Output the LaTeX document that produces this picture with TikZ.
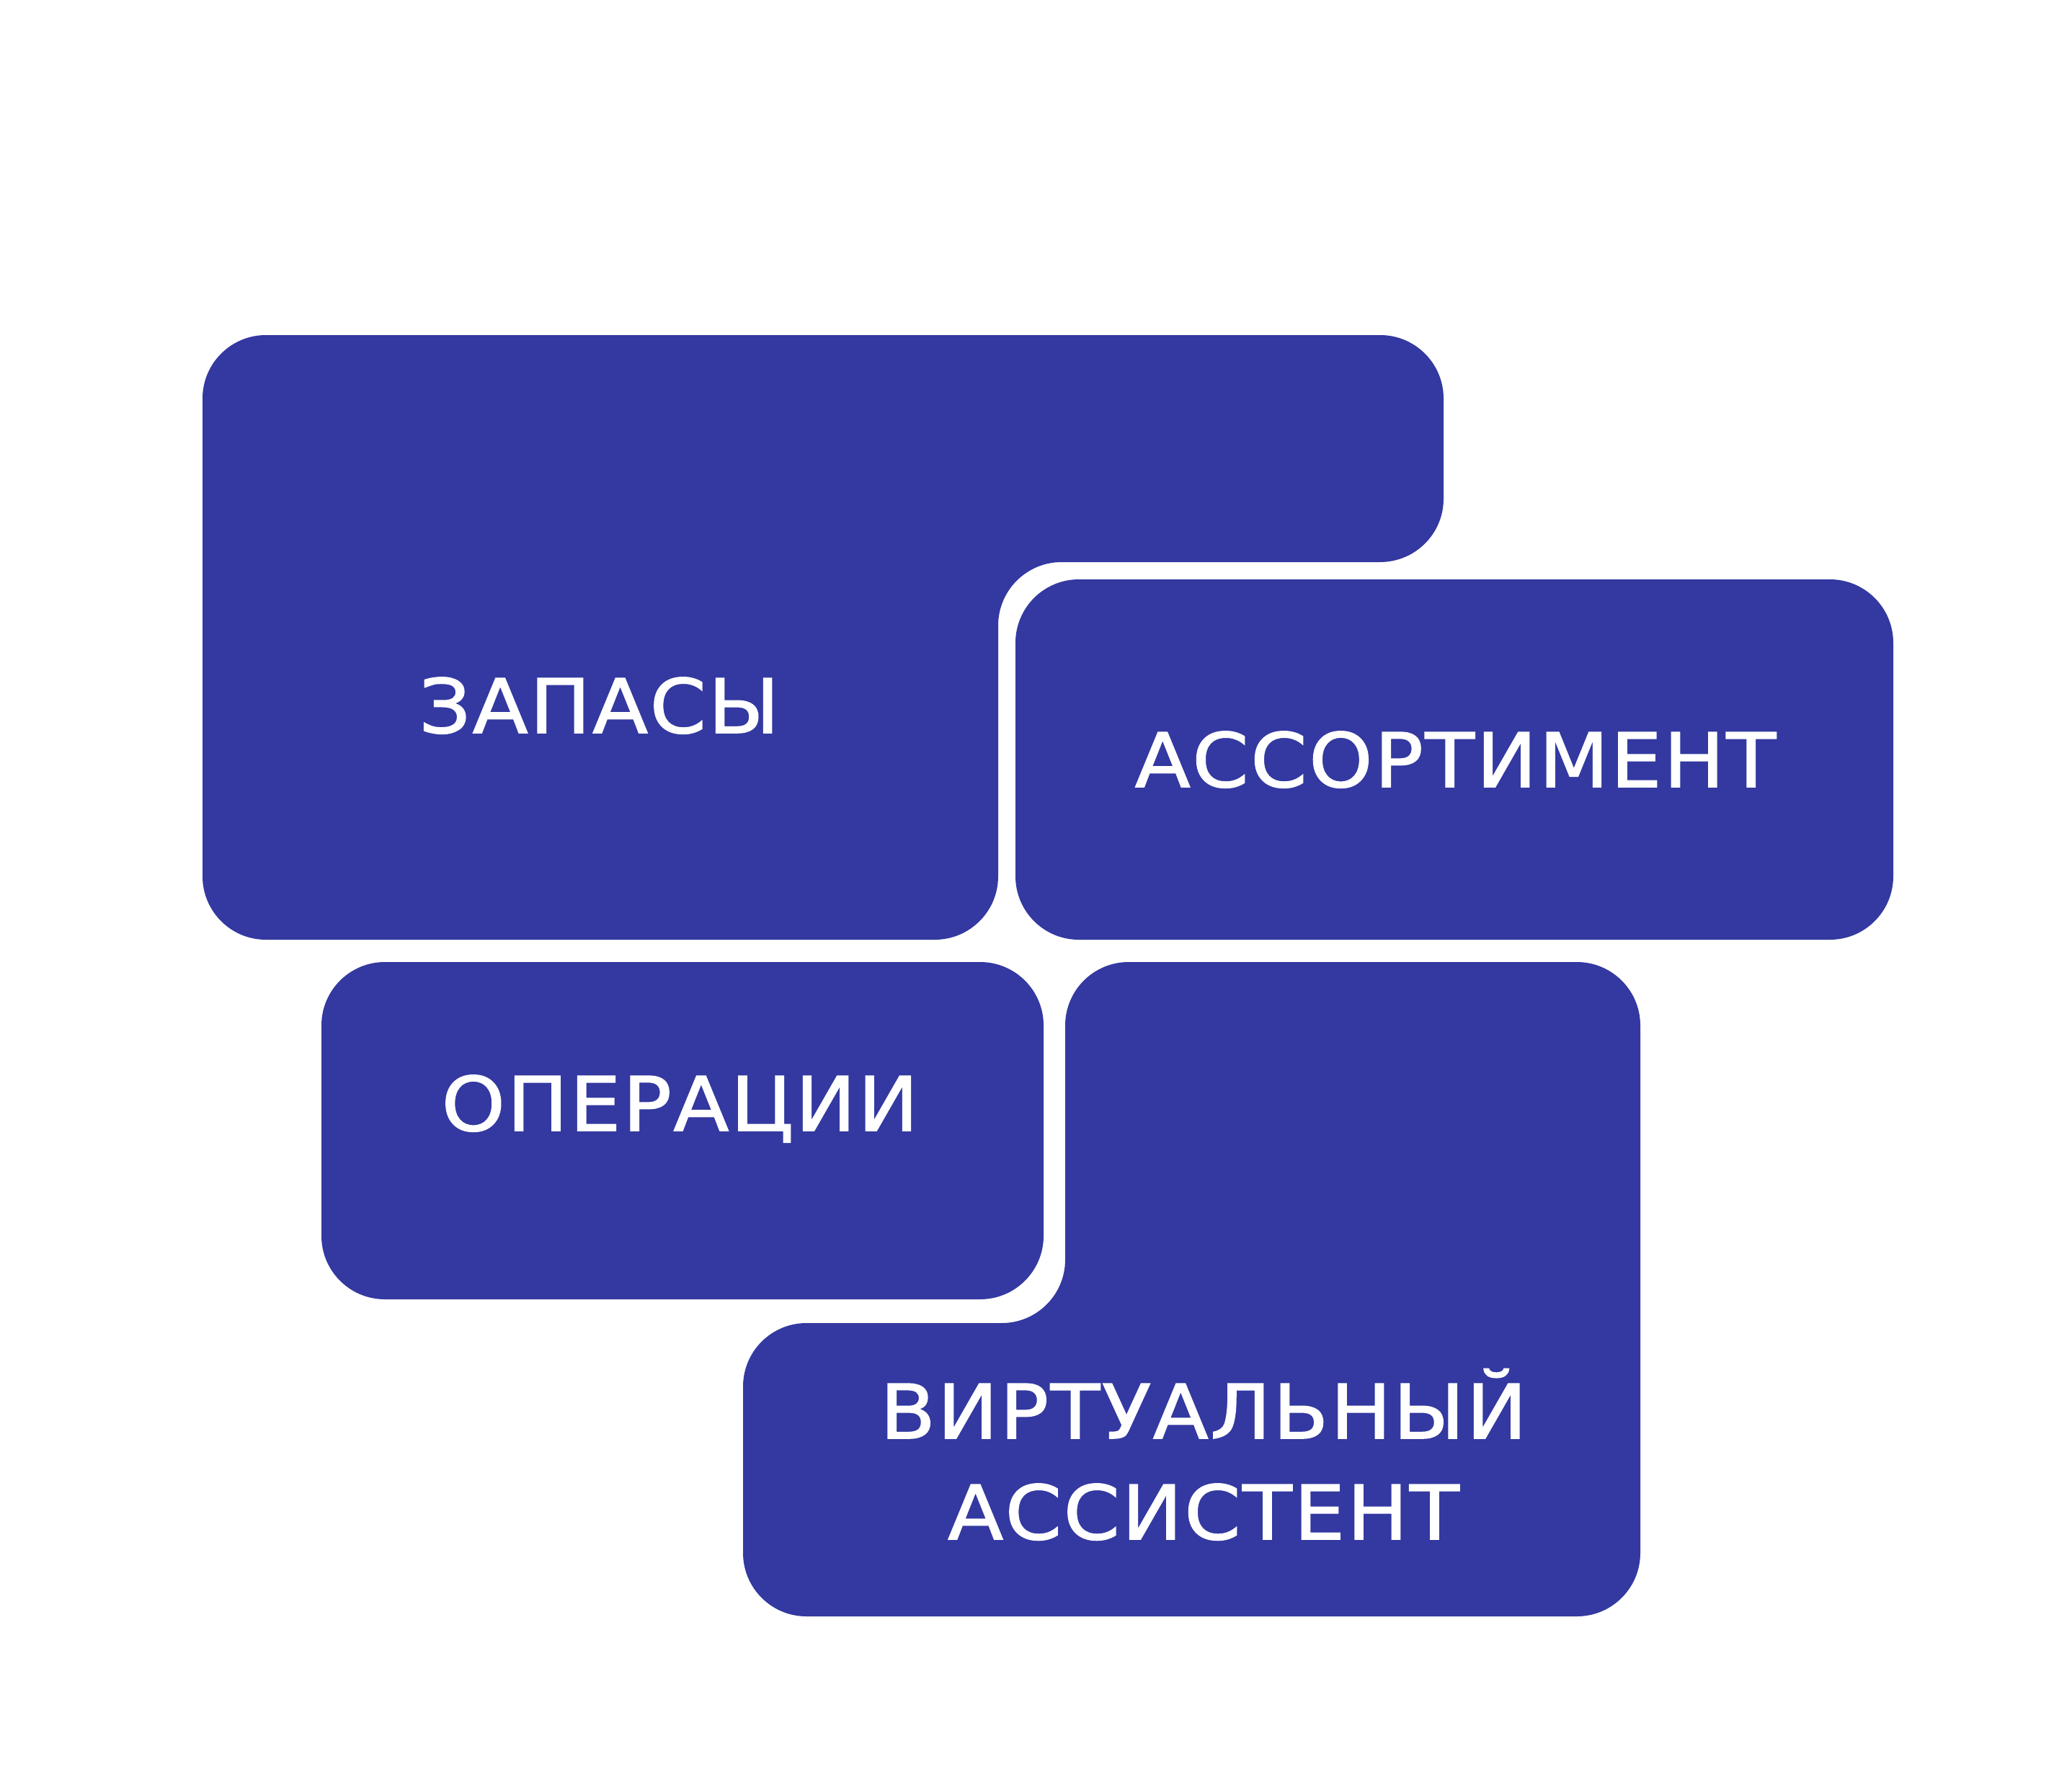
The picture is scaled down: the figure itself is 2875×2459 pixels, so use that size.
\documentclass[tikz,border=0pt]{standalone}
\usepackage{fontspec}
\newfontfamily\labelfont[LetterSpace=2.5,FakeStretch=1.08,FakeBold=1.5]{DejaVu Sans}
\definecolor{boxblue}{HTML}{3339A0}
\tikzset{
  panel/.style={fill=boxblue, draw=none, rounded corners=88pt},
  label/.style={text=white, inner sep=0pt, anchor=base,
    font=\labelfont\fontsize{104}{140}\selectfont}
}
\begin{document}
\begin{tikzpicture}[x=1pt,y=-1pt]
\useasboundingbox (0,0) rectangle (2875,2459);
\fill[white] (0,0) rectangle (2875,2459);
% shapes
\fill[panel] (281,465) -- (2003,465) -- (2003,780) -- (1385,780) -- (1385,1304) -- (281,1304) -- cycle;
\fill[panel] (1409,804) rectangle (2627,1304);
\fill[panel] (446,1335) rectangle (1448,1803);
\fill[panel] (1478,1335) -- (2276,1335) -- (2276,2243) -- (1031,2243) -- (1031,1836) -- (1478,1836) -- cycle;
% labels
\node[label] (zap) at (831.5,1017) {ЗАПАСЫ};
\node[label] (ass) at (2019.5,1092) {АССОРТИМЕНТ};
\node[label] (oper) at (943.5,1569) {ОПЕРАЦИИ};
\node[label] (virt) at (1670,1996) {ВИРТУАЛЬНЫЙ};
\node[label] (asst) at (1670,2136) {АССИСТЕНТ};
\end{tikzpicture}
\end{document}
